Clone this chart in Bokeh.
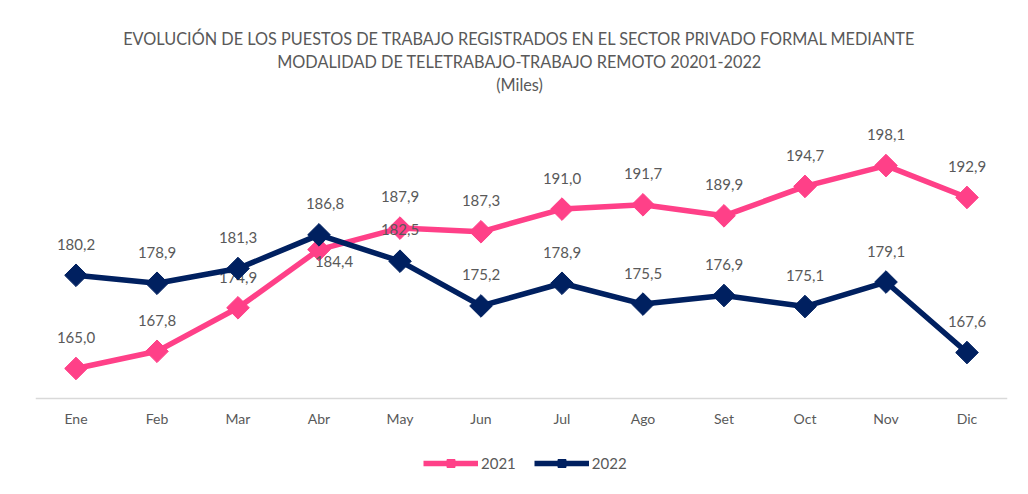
from bokeh.plotting import figure
from bokeh.models import Range1d, Label, Legend, LegendItem, ColumnDataSource
from bokeh.core.properties import value
from bokeh.embed import file_html
from bokeh.resources import INLINE
import math

months = ["Ene", "Feb", "Mar", "Abr", "May", "Jun", "Jul", "Ago", "Set", "Oct", "Nov", "Dic"]
v2021 = [165.0, 167.8, 174.9, 184.4, 187.9, 187.3, 191.0, 191.7, 189.9, 194.7, 198.1, 192.9]
v2022 = [180.2, 178.9, 181.3, 186.8, 182.5, 175.2, 178.9, 175.5, 176.9, 175.1, 179.1, 167.6]
title_lines = [
    "EVOLUCIÓN DE LOS PUESTOS DE TRABAJO REGISTRADOS EN EL SECTOR PRIVADO FORMAL MEDIANTE",
    "MODALIDAD DE TELETRABAJO-TRABAJO REMOTO 20201-2022",
    "(Miles)",
]

PINK = "#FF4088"
NAVY = "#002060"
GREY = "#595959"
FONT = "Lato"
AXIS_AT = 160.1

def fmt(v):
    return f"{v:.1f}".replace(".", ",")

p = figure(x_range=months, y_range=Range1d(147.05, 225.03), width=1012, height=478,
           output_backend="svg", toolbar_location=None,
           min_border_left=35, min_border_right=5, min_border_top=0, min_border_bottom=0)
p.yaxis.visible = False
p.xgrid.grid_line_color = None
p.ygrid.grid_line_color = None
p.outline_line_color = None
p.xaxis.fixed_location = AXIS_AT
p.xaxis.axis_line_color = "#D9D9D9"
p.xaxis.axis_line_width = 1.5
p.xaxis.major_tick_line_color = None
p.xaxis.minor_tick_line_color = None
p.xaxis.major_label_standoff = 5
p.xaxis.major_label_text_font = FONT
p.xaxis.major_label_text_font_size = "14px"
p.xaxis.major_label_text_color = GREY

src21 = ColumnDataSource(dict(x=months, y=v2021, t=[fmt(v) for v in v2021],
                              xo=[0, 0, 0, 15, 0, 0, 0, 0, 0, 0, 0, 0],
                              yo=[-31, -31, -30, 12, -32, -31, -31, -31, -31, -31, -31, -31]))
src22 = ColumnDataSource(dict(x=months, y=v2022, t=[fmt(v) for v in v2022],
                              xo=[0, 0, 0, 6, 0, 0, 0, 0, 0, 0, 0, 0],
                              yo=[-31, -31, -31, -31, -32, -31, -31, -31, -31, -31, -31, -31]))

l21 = p.line("x", "y", source=src21, line_color=PINK, line_width=5.5)
m21 = p.scatter("x", "y", source=src21, marker="square", angle=math.pi / 4, size=16,
                fill_color=PINK, line_color=PINK)
p.text("x", "y", text="t", source=src21, x_offset="xo", y_offset="yo",
       text_align="center", text_baseline="middle", text_font=value(FONT),
       text_font_size="15px", text_color=GREY)

l22 = p.line("x", "y", source=src22, line_color=NAVY, line_width=5.5)
m22 = p.scatter("x", "y", source=src22, marker="square", angle=math.pi / 4, size=16,
                fill_color=NAVY, line_color=NAVY)
p.text("x", "y", text="t", source=src22, x_offset="xo", y_offset="yo",
       text_align="center", text_baseline="middle", text_font=value(FONT),
       text_font_size="15px", text_color=GREY)

for txt, yy in zip(title_lines, [440, 417, 394]):
    p.add_layout(Label(x=484, y=yy, x_units="screen", y_units="screen", text=txt,
                       text_align="center", text_baseline="alphabetic",
                       text_font=FONT, text_font_size="16.3px", text_color=GREY))

legend = Legend(items=[LegendItem(label="2021", renderers=[l21, m21]),
                       LegendItem(label="2022", renderers=[l22, m22])],
                orientation="horizontal", location=(388, 5),
                label_text_font=FONT, label_text_font_size="15px", label_text_color=GREY,
                glyph_width=55, glyph_height=20, label_standoff=3, spacing=18,
                border_line_color=None, background_fill_alpha=0, margin=0, padding=2)
p.add_layout(legend, "center")

open("out.html", "w").write(file_html(p, INLINE))
